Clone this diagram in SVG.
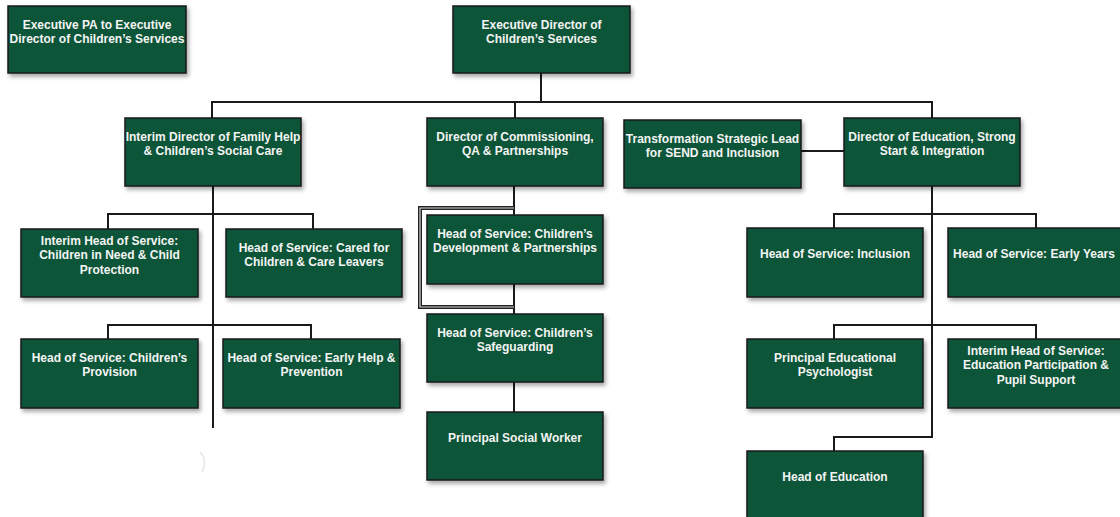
<svg xmlns="http://www.w3.org/2000/svg" width="1120" height="517" viewBox="0 0 1120 517">
<defs>
<filter id="sh" x="-10%" y="-10%" width="130%" height="140%">
<feDropShadow dx="2" dy="3" stdDeviation="2" flood-color="#000" flood-opacity="0.35"/>
</filter>
<style>
.box{fill:#0e5537;stroke:#1a1a1a;stroke-width:1.5;filter:url(#sh)}
.t{font-family:"Liberation Sans",Arial,sans-serif;font-weight:bold;font-size:12px;fill:#f4f4f4;text-anchor:middle}
.ln{fill:none;stroke:#1a1a1a;stroke-width:2}
.dbl{fill:none;stroke:#222;stroke-width:4}
.dbli{fill:none;stroke:#d8d8d8;stroke-width:1.2}
</style>
</defs>
<rect width="1120" height="517" fill="#ffffff"/>
<g id="connectors">
<path class="ln" d="M541,73 V102"/>
<path class="ln" d="M212,118 V102 H932 V118"/>
<path class="ln" d="M515,102 V118"/>
<path class="ln" d="M213,186 V428"/>
<path class="ln" d="M108,229 V214 H313 V229"/>
<path class="ln" d="M108,339 V325 H311 V339"/>
<path class="ln" d="M514,186 V215"/>
<path class="ln" d="M514,284 V314"/>
<path class="ln" d="M514,382 V412"/>
<path class="dbl" d="M514,208 H420 V307 H514"/>
<path class="dbli" d="M514,208 H420 V307 H514"/>
<path class="ln" d="M801,151 H844"/>
<path class="ln" d="M932,186 V437 H834 V451"/>
<path class="ln" d="M834,228 V214 H1036 V228"/>
<path class="ln" d="M834,339 V325 H1036 V339"/>
<path d="M200,452 Q208,460 202,472" fill="none" stroke="#e6e6e6" stroke-width="1.5"/>
</g>
<g id="exec-pa"><rect class="box" x="8" y="6" width="178" height="67"/><text class="t" x="97" y="29">Executive PA to Executive</text><text class="t" x="97" y="43">Director of Children’s Services</text></g>
<g id="exec-director"><rect class="box" x="453" y="6" width="177" height="67"/><text class="t" x="541.5" y="29">Executive Director of</text><text class="t" x="541.5" y="43">Children’s Services</text></g>
<g id="dir-family-help"><rect class="box" x="125" y="118" width="176" height="68"/><text class="t" x="213" y="141">Interim Director of Family Help</text><text class="t" x="213" y="155">&amp; Children’s Social Care</text></g>
<g id="dir-commissioning"><rect class="box" x="427" y="118" width="176" height="68"/><text class="t" x="515" y="141">Director of Commissioning,</text><text class="t" x="515" y="155">QA &amp; Partnerships</text></g>
<g id="transformation-lead"><rect class="box" x="624" y="120" width="177" height="68"/><text class="t" x="712.5" y="143">Transformation Strategic Lead</text><text class="t" x="712.5" y="157">for SEND and Inclusion</text></g>
<g id="dir-education"><rect class="box" x="844" y="118" width="176" height="68"/><text class="t" x="932" y="141">Director of Education, Strong</text><text class="t" x="932" y="155">Start &amp; Integration</text></g>
<g id="hos-cin"><rect class="box" x="21" y="229" width="177" height="68"/><text class="t" x="109.5" y="244.5">Interim Head of Service:</text><text class="t" x="109.5" y="259">Children in Need &amp; Child</text><text class="t" x="109.5" y="273.5">Protection</text></g>
<g id="hos-cared-for"><rect class="box" x="226" y="229" width="176" height="68"/><text class="t" x="314" y="251.5">Head of Service: Cared for</text><text class="t" x="314" y="265.5">Children &amp; Care Leavers</text></g>
<g id="hos-provision"><rect class="box" x="21" y="339" width="177" height="69"/><text class="t" x="109.5" y="362">Head of Service: Children’s</text><text class="t" x="109.5" y="376">Provision</text></g>
<g id="hos-early-help"><rect class="box" x="223" y="339" width="177" height="69"/><text class="t" x="311.5" y="362">Head of Service: Early Help &amp;</text><text class="t" x="311.5" y="376">Prevention</text></g>
<g id="hos-development"><rect class="box" x="427" y="215" width="176" height="69"/><text class="t" x="515" y="238">Head of Service: Children’s</text><text class="t" x="515" y="252">Development &amp; Partnerships</text></g>
<g id="hos-safeguarding"><rect class="box" x="427" y="314" width="176" height="68"/><text class="t" x="515" y="337">Head of Service: Children’s</text><text class="t" x="515" y="351">Safeguarding</text></g>
<g id="principal-social-worker"><rect class="box" x="427" y="412" width="176" height="68"/><text class="t" x="515" y="442">Principal Social Worker</text></g>
<g id="hos-inclusion"><rect class="box" x="747" y="228" width="176" height="69"/><text class="t" x="835" y="258">Head of Service: Inclusion</text></g>
<g id="hos-early-years"><rect class="box" x="948" y="228" width="180" height="69"/><text class="t" x="1034" y="258">Head of Service: Early Years</text></g>
<g id="principal-ed-psych"><rect class="box" x="747" y="339" width="176" height="69"/><text class="t" x="835" y="362">Principal Educational</text><text class="t" x="835" y="376">Psychologist</text></g>
<g id="hos-education-participation"><rect class="box" x="948" y="339" width="180" height="69"/><text class="t" x="1036" y="354.5">Interim Head of Service:</text><text class="t" x="1036" y="369">Education Participation &amp;</text><text class="t" x="1036" y="383.5">Pupil Support</text></g>
<g id="head-of-education"><rect class="box" x="747" y="451" width="176" height="80"/><text class="t" x="835" y="480.5">Head of Education</text></g>
</svg>
